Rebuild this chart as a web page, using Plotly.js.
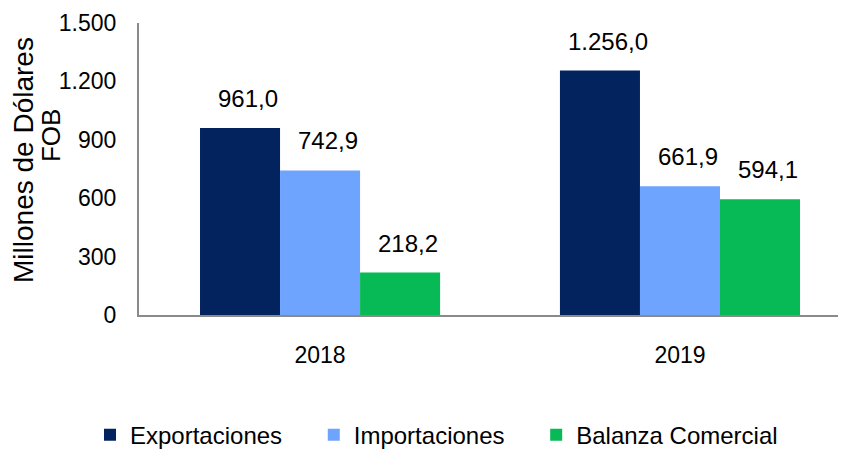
<!DOCTYPE html>
<html><head><meta charset="utf-8">
<script src="https://cdn.plot.ly/plotly-3.0.1.min.js"></script>
<style>html,body{margin:0;padding:0;background:#fff}</style>
</head><body>
<div id="chart" style="width:852px;height:450px"></div>
<script>
const categories = ["2018", "2019"];
const seriesNames = ["Exportaciones", "Importaciones", "Balanza Comercial"];
const exportaciones = [961.0, 1256.0];
const importaciones = [742.9, 661.9];
const balanza = [218.2, 594.1];
const yTicks = [0, 300, 600, 900, 1200, 1500];
const yTitleLines = ["Millones de Dólares", "FOB"];
const colors = ["#03235f", "#6ea3fe", "#07ba55"];
const FONT = "'Liberation Sans', Arial, sans-serif";
const BARGAP = 0.333;

function fmt(v) {
  const parts = v.toFixed(1).split(".");
  return parts[0].replace(/\B(?=(\d{3})+(?!\d))/g, ".") + "," + parts[1];
}

const values = [exportaciones, importaciones, balanza];
const pad = "\u00a0\u00a0\u00a0\u00a0";
const data = values.map((v, i) => ({
  type: "bar",
  name: seriesNames[i] + (i < values.length - 1 ? pad : ""),
  x: categories,
  y: v,
  marker: {color: colors[i]}
}));

// value labels, anchored on each bar's top through the axes
const annotations = [];
const slot = (1 - BARGAP) / values.length;
values.forEach((v, i) => {
  v.forEach((val, j) => {
    annotations.push({
      xref: "x", yref: "y",
      x: j + (i - (values.length - 1) / 2) * slot,
      y: val,
      text: fmt(val),
      showarrow: false,
      xanchor: "center", yanchor: "bottom",
      xshift: 8, yshift: 14,
      font: {family: FONT, size: 24, color: "#000"}
    });
  });
});
// y-axis title (two lines)
annotations.push({xref: "paper", yref: "paper", x: -0.1645, y: 0.531, text: yTitleLines[0],
  textangle: -90, showarrow: false, xanchor: "center", yanchor: "middle",
  font: {family: FONT, size: 28, color: "#000"}});
annotations.push({xref: "paper", yref: "paper", x: -0.1259, y: 0.616, text: yTitleLines[1],
  textangle: -90, showarrow: false, xanchor: "center", yanchor: "middle",
  font: {family: FONT, size: 26, color: "#000"}});

const layout = {
  width: 852, height: 450,
  margin: {l: 139, r: 14, t: 23, b: 135, autoexpand: false},
  separators: ",.",
  barmode: "group",
  bargap: BARGAP,
  bargroupgap: 0,
  font: {family: FONT, size: 23, color: "#000"},
  paper_bgcolor: "#fff", plot_bgcolor: "#fff",
  showlegend: true,
  legend: {orientation: "h", x: 90 / 852, xref: "container", xanchor: "left",
           y: 0.033, yref: "container", yanchor: "middle",
           font: {family: FONT, size: 24, color: "#000"}, traceorder: "normal", itemwidth: 30},
  annotations: annotations,
  xaxis: {type: "category", range: [-0.503, 1.439], showline: true, linecolor: "#8a8a8a", linewidth: 2, ticks: "",
          ticklabelstandoff: 18, tickfont: {family: FONT, size: 23}, showgrid: false, zeroline: false},
  yaxis: {range: [0, 1500], tickvals: yTicks, tickformat: ",d", showline: true, linecolor: "#8a8a8a",
          linewidth: 2, ticks: "", showgrid: false, zeroline: false, ticklabelstandoff: 16,
          tickfont: {family: FONT, size: 23}}
};
Plotly.newPlot("chart", data, layout, {staticPlot: true});
</script>
</body></html>
